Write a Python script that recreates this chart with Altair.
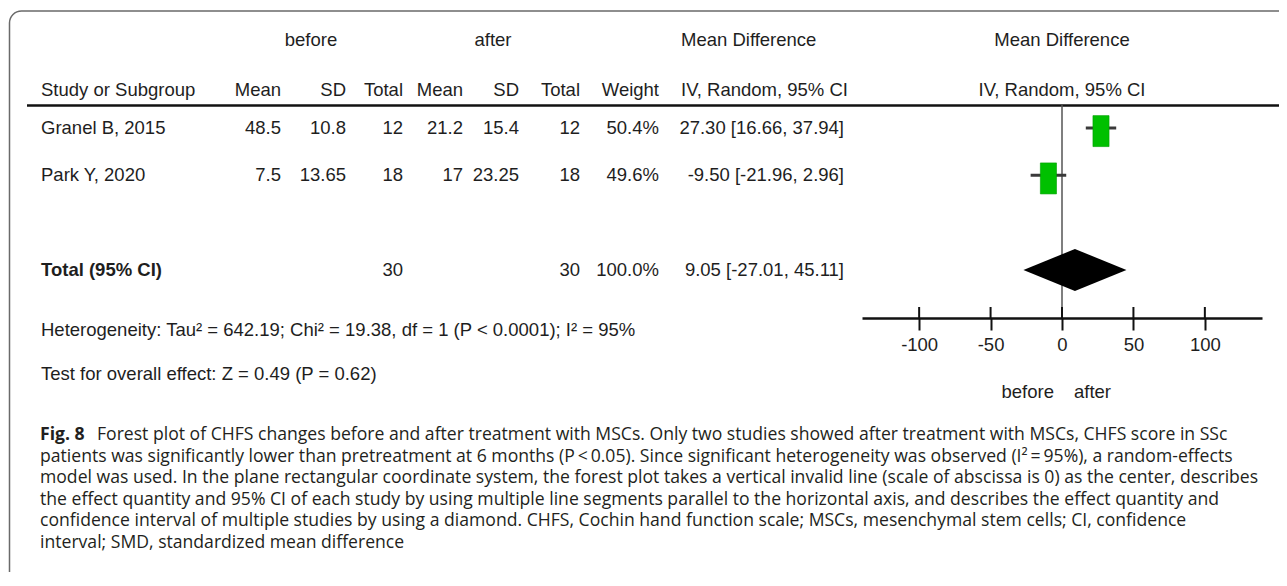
import altair as alt
import pandas as pd

# ---------------- data ----------------
studies = ["Granel B, 2015", "Park Y, 2020"]
before_mean = [48.5, 7.5]
before_sd = [10.8, 13.65]
before_total = [12, 18]
after_mean = [21.2, 17]
after_sd = [15.4, 23.25]
after_total = [12, 18]
weight_pct = [50.4, 49.6]
mean_diff = [27.30, -9.50]
ci_low = [16.66, -21.96]
ci_high = [37.94, 2.96]

total_label = "Total (95% CI)"
total_before = 30
total_after = 30
total_weight = 100.0
total_md = 9.05
total_low = -27.01
total_high = 45.11

axis_ticks = [-100, -50, 0, 50, 100]
x_domain = [-140, 140]

group_headers = ["before", "after"]
col_headers = ["Study or Subgroup", "Mean", "SD", "Total", "Mean", "SD", "Total", "Weight", "IV, Random, 95% CI"]
md_header = "Mean Difference"
heterogeneity_text = "Heterogeneity: Tau² = 642.19; Chi² = 19.38, df = 1 (P < 0.0001); I² = 95%"
overall_text = "Test for overall effect: Z = 0.49 (P = 0.62)"
favours = ["before", "after"]
fig_label = "Fig. 8"
caption_first = ("Forest plot of CHFS changes before and after treatment with MSCs. Only two studies "
                 "showed after treatment with MSCs, CHFS score in SSc")
caption_rest = [
    "patients was significantly lower than pretreatment at 6 months (P\u2009<\u20090.05). Since significant heterogeneity was observed (I²\u2009=\u200995%), a random-effects",
    "model was used. In the plane rectangular coordinate system, the forest plot takes a vertical invalid line (scale of abscissa is 0) as the center, describes",
    "the effect quantity and 95% CI of each study by using multiple line segments parallel to the horizontal axis, and describes the effect quantity and",
    "confidence interval of multiple studies by using a diamond. CHFS, Cochin hand function scale; MSCs, mesenchymal stem cells; CI, confidence",
    "interval; SMD, standardized mean difference",
]

# ---------------- styles / layout ----------------
W, H = 1271, 564
TF = "Liberation Sans, Arial, sans-serif"
TS = 18.5
TC = "#1e1e1e"
CF = "Open Sans, Noto Sans, sans-serif"
CS = 17.6
LEFT = 33
study_rows = [0, 1]
total_row = 3
diamond_half = 0.444

xs = alt.Scale(domain=x_domain, range=[854, 1254], nice=False, zero=False)
ys = alt.Scale(domain=[0, 3], range=[120, 262], nice=False, zero=False)
Y = alt.Y("row:Q", scale=ys, axis=None)
xaxis = alt.Axis(values=axis_ticks, title=None, offset=-254, grid=False,
                 domainColor="#111", domainWidth=2.5, tickColor="#111", tickWidth=2,
                 tickSize=12, labelFont=TF, labelFontSize=TS, labelColor=TC,
                 labelPadding=5, labelFlush=False, labelExpr="'' + datum.value")


def X(field):
    return alt.X(field, scale=xs, axis=xaxis)


def g(v):
    return f"{v:g}"


table = pd.DataFrame({
    "row": study_rows + [total_row],
    "name": studies + [total_label],
    "bm": [g(v) for v in before_mean] + [""],
    "bsd": [g(v) for v in before_sd] + [""],
    "bt": [g(v) for v in before_total] + [g(total_before)],
    "am": [g(v) for v in after_mean] + [""],
    "asd": [g(v) for v in after_sd] + [""],
    "at": [g(v) for v in after_total] + [g(total_after)],
    "w": [f"{v:.1f}%" for v in weight_pct] + [f"{total_weight:.1f}%"],
    "ci": [f"{m:.2f} [{l:.2f}, {h:.2f}]" for m, l, h in zip(mean_diff, ci_low, ci_high)]
          + [f"{total_md:.2f} [{total_low:.2f}, {total_high:.2f}]"],
})
study_tbl = table[table["row"] != total_row]
total_tbl = table[table["row"] == total_row]

layers = []

# figure frame
frame_df = pd.DataFrame({"k": [0]})
layers.append(alt.Chart(frame_df).mark_rect(fill=None, stroke="#6a6a6a", strokeWidth=1.5, cornerRadius=12)
              .encode(x=alt.value(1.5), x2=alt.value(1300), y=alt.value(3), y2=alt.value(600)))

# header texts
hdr = dict(font=TF, fontSize=TS, color=TC, baseline="alphabetic")
layers.append(alt.Chart(pd.DataFrame({"t": [group_headers[0]]})).mark_text(align="center", **hdr)
              .encode(x=alt.value(303), y=alt.value(38), text="t:N"))
layers.append(alt.Chart(pd.DataFrame({"t": [group_headers[1]]})).mark_text(align="center", **hdr)
              .encode(x=alt.value(485), y=alt.value(38), text="t:N"))
layers.append(alt.Chart(pd.DataFrame({"t": [md_header]})).mark_text(align="left", **hdr)
              .encode(x=alt.value(673), y=alt.value(38), text="t:N"))

col_pos = [(LEFT, "left"), (273, "right"), (338, "right"), (395, "right"), (455, "right"),
           (511, "right"), (572, "right"), (651, "right"), (673, "left")]
for (px, al), txt in zip(col_pos, col_headers):
    layers.append(alt.Chart(pd.DataFrame({"t": [txt]})).mark_text(align=al, **hdr)
                  .encode(x=alt.value(px), y=alt.value(88), text="t:N"))

# forest headers centred on the zero line
fh = pd.DataFrame({"x": [0], "t": [md_header], "t2": [col_headers[-1]]})
layers.append(alt.Chart(fh).mark_text(align="center", **hdr).encode(x=X("x:Q"), y=alt.value(38), text="t:N"))
layers.append(alt.Chart(fh).mark_text(align="center", **hdr).encode(x=X("x:Q"), y=alt.value(88), text="t2:N"))

# header rule
layers.append(alt.Chart(frame_df).mark_rule(color="#111", strokeWidth=2.5)
              .encode(x=alt.value(19), x2=alt.value(1275), y=alt.value(97.5)))

# table body
body = dict(font=TF, fontSize=TS, color=TC, baseline="middle")
layers.append(alt.Chart(study_tbl).mark_text(align="left", **body)
              .encode(x=alt.value(LEFT), y=Y, text="name:N"))
layers.append(alt.Chart(total_tbl).mark_text(align="left", fontWeight="bold", **body)
              .encode(x=alt.value(LEFT), y=Y, text="name:N"))
for (px, al), col in zip(col_pos[1:8], ["bm", "bsd", "bt", "am", "asd", "at", "w"]):
    layers.append(alt.Chart(table).mark_text(align=al, **body)
                  .encode(x=alt.value(px), y=Y, text=f"{col}:N"))
layers.append(alt.Chart(table).mark_text(align="right", **body)
              .encode(x=alt.value(836), y=Y, text="ci:N"))

# footnotes
layers.append(alt.Chart(pd.DataFrame({"t": [heterogeneity_text]})).mark_text(align="left", **body)
              .encode(x=alt.value(LEFT), y=alt.value(322), text="t:N"))
layers.append(alt.Chart(pd.DataFrame({"t": [overall_text]})).mark_text(align="left", **body)
              .encode(x=alt.value(LEFT), y=alt.value(366), text="t:N"))

# forest: zero line
zero_df = pd.DataFrame({"x": [0]})
layers.append(alt.Chart(zero_df).mark_rule(color="#555", strokeWidth=1.5)
              .encode(x=X("x:Q"), y=alt.value(97), y2=alt.value(310)))

# upper halves of axis ticks
tick_df = pd.DataFrame({"x": axis_ticks})
layers.append(alt.Chart(tick_df).mark_rule(color="#111", strokeWidth=2)
              .encode(x=X("x:Q"), y=alt.value(299), y2=alt.value(310)))

# study CIs and squares
ci_df = pd.DataFrame({"row": study_rows, "md": mean_diff, "lo": ci_low, "hi": ci_high})
layers.append(alt.Chart(ci_df).mark_rule(color="#3a3a3a", strokeWidth=3)
              .encode(x=X("lo:Q"), x2="hi:Q", y=Y))
layers.append(alt.Chart(ci_df).mark_point(shape="M-0.52,-0.8L0.52,-0.8L0.52,1.2L-0.52,1.2Z", size=961,
                                          filled=True, color="#00c000", opacity=1,
                                          stroke="#00a000", strokeWidth=0.6)
              .encode(x=X("md:Q"), y=Y))

# pooled diamond
dia = pd.DataFrame({
    "x": [total_low, total_md, total_high],
    "row": [total_row, total_row - diamond_half, total_row],
    "row2": [total_row, total_row + diamond_half, total_row],
})
layers.append(alt.Chart(dia).mark_area(color="#000", opacity=1)
              .encode(x=X("x:Q"), y=Y, y2="row2:Q"))

# favours labels
layers.append(alt.Chart(pd.DataFrame({"t": [favours[0]]})).mark_text(align="right", **body)
              .encode(x=alt.value(1046), y=alt.value(384), text="t:N"))
layers.append(alt.Chart(pd.DataFrame({"t": [favours[1]]})).mark_text(align="left", **body)
              .encode(x=alt.value(1066), y=alt.value(384), text="t:N"))

# caption
cap = dict(font=CF, fontSize=CS, color="#231f20", baseline="alphabetic", align="left")
layers.append(alt.Chart(pd.DataFrame({"t": [fig_label]})).mark_text(fontWeight="bold", **cap)
              .encode(x=alt.value(LEFT - 1), y=alt.value(432), text="t:N"))
layers.append(alt.Chart(pd.DataFrame({"t": [caption_first]})).mark_text(**cap)
              .encode(x=alt.value(LEFT + 56), y=alt.value(432), text="t:N"))
layers.append(alt.Chart(pd.DataFrame({"t": ["\n".join(caption_rest)]}))
              .mark_text(lineBreak="\n", lineHeight=21.6, **cap)
              .encode(x=alt.value(LEFT - 1), y=alt.value(453.6), text="t:N"))

chart = alt.layer(*layers).properties(
    width=W, height=H, padding=0,
    autosize=alt.AutoSizeParams(type="none"),
    background="white",
).configure_view(strokeWidth=0)

chart.save("out.html", embed_options={"renderer": "svg", "actions": False})
